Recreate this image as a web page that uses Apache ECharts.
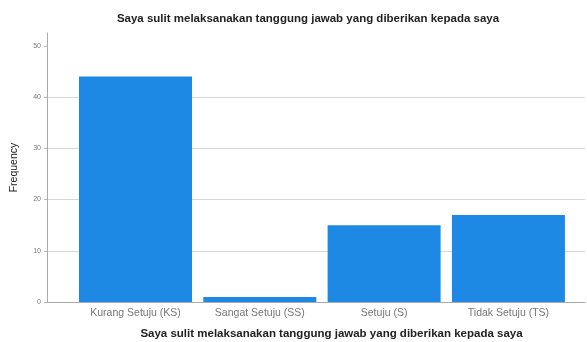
<!DOCTYPE html>
<html>
<head>
<meta charset="utf-8">
<script src="https://cdn.jsdelivr.net/npm/echarts@6/dist/echarts.min.js"></script>
<style>
  html, body { margin: 0; padding: 0; background: #fff; }
  #main { width: 587px; height: 342px; }
</style>
</head>
<body>
<div id="main"></div>
<script>
const chart = echarts.init(document.querySelector('#main'))

const TITLE = 'Saya sulit melaksanakan tanggung jawab yang diberikan kepada saya'
const CATEGORIES = ['Kurang Setuju (KS)', 'Sangat Setuju (SS)', 'Setuju (S)', 'Tidak Setuju (TS)']
const FREQUENCY = [44, 1, 15, 17]
const Y_TICKS = [0, 10, 20, 30, 40, 50]

const FONT = 'Arial, "Liberation Sans", sans-serif'

// bars sit on a value axis so the plot can have SPSS-style padding on both sides
let barData = FREQUENCY.map((v, i) => [i, v])

let chartOption = {
  animation: false,
  title: {
    text: TITLE,
    left: 303,
    top: 8,
    textAlign: 'center',
    textStyle: { fontFamily: FONT, fontSize: 11.5, fontWeight: 'bold', color: '#222' }
  },
  grid: { left: 47, right: 2, top: 33, bottom: 40, outerBoundsMode: 'none', containLabel: false },
  xAxis: {
    type: 'value',
    min: -0.712,
    max: 3.616,
    axisLine: { show: true, onZero: false, lineStyle: { color: '#aaa', width: 1 } },
    axisTick: { show: false },
    splitLine: { show: false },
    axisLabel: {
      customValues: CATEGORIES.map((c, i) => i),
      formatter: v => CATEGORIES[Math.round(v)],
      fontFamily: FONT,
      fontSize: 10.5,
      color: '#777',
      margin: 6
    },
    name: TITLE,
    nameLocation: 'middle',
    nameGap: 26,
    nameTextStyle: { fontFamily: FONT, fontSize: 11.5, fontWeight: 'bold', color: '#222', padding: [0, 0, 0, 31] }
  },
  yAxis: {
    type: 'value',
    min: 0,
    max: 52.5,
    axisLine: { show: true, onZero: false, lineStyle: { color: '#aaa', width: 1 } },
    axisTick: { show: true, length: 3, customValues: Y_TICKS, lineStyle: { color: '#bbb' } },
    splitLine: { show: true, showMaxLine: false, lineStyle: { color: '#d6d6d6', width: 1 } },
    axisLabel: {
      customValues: Y_TICKS,
      fontFamily: FONT,
      fontSize: 7,
      color: '#777',
      margin: 6
    },
    name: 'Frequency',
    nameLocation: 'middle',
    nameGap: 27,
    nameTextStyle: { fontFamily: FONT, fontSize: 10.5, color: '#222' }
  },
  series: [
    {
      type: 'bar',
      data: barData,
      barWidth: 113,
      itemStyle: { color: '#1e88e5' }
    }
  ]
}

chart.setOption(chartOption)
</script>
</body>
</html>
